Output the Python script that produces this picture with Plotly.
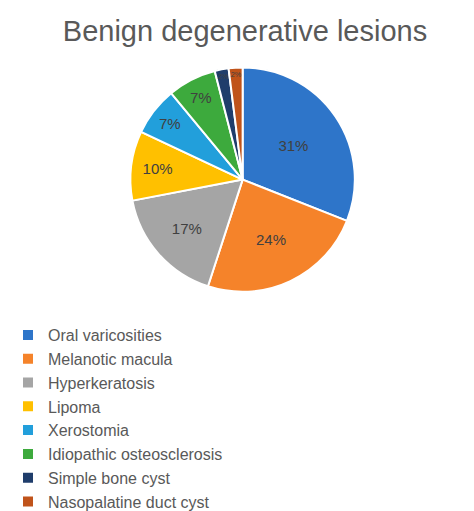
import plotly.graph_objects as go

labels = ["Oral varicosities", "Melanotic macula", "Hyperkeratosis", "Lipoma",
          "Xerostomia", "Idiopathic osteosclerosis", "Simple bone cyst", "Nasopalatine duct cyst"]
values = [31, 24, 17, 10, 7, 7, 2, 2]
colors = ["#2E75C9", "#F5832A", "#A5A5A5", "#FFC000", "#229FDB", "#3DAA3D", "#1F3D6B", "#C0531A"]

fig = go.Figure(go.Pie(
    labels=labels, values=values, sort=False, direction="clockwise", rotation=0,
    marker=dict(colors=colors, line=dict(color="white", width=2)),
    textinfo="percent", texttemplate="%{percent:.0%}", textposition="inside",
    insidetextorientation="horizontal",
    textfont=dict(color="#404040", size=15, family="Liberation Sans"),
    domain=dict(x=[0.16, 0.83], y=[0.355, 0.865]),
))
fig.update_layout(
    width=474, height=511, margin=dict(l=0, r=0, t=0, b=0),
    paper_bgcolor="white", plot_bgcolor="white",
    title=dict(text="Benign degenerative lesions", x=0.5, xanchor="center", y=0.955, yanchor="middle",
               font=dict(size=29, color="#595959", family="Liberation Sans")),
    legend=dict(orientation="h", x=0.0, y=0.295, xanchor="left", yanchor="top",
                entrywidth=0.555, entrywidthmode="fraction",
                font=dict(size=16, color="#595959", family="Liberation Sans"),
                itemwidth=30, traceorder="normal"),
)
fig.write_html("out.html")
